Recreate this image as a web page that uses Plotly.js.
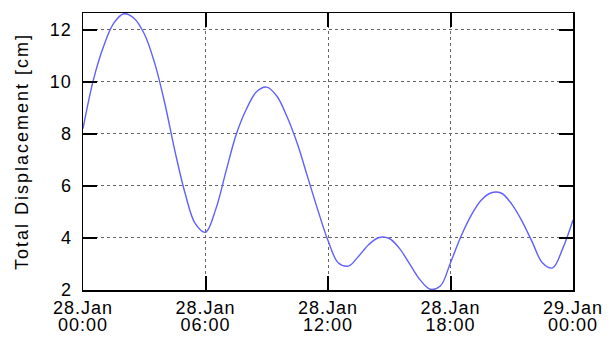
<!DOCTYPE html>
<html>
<head>
<meta charset="utf-8">
<script src="https://cdn.plot.ly/plotly-3.0.1.min.js"></script>
<style>
html,body{margin:0;padding:0;background:#fff;}
#chart{width:611px;height:340px;}
.xtick text,.x2tick text,.ytick text{letter-spacing:1px;}
.ytitle{letter-spacing:2px;}
</style>
</head>
<body>
<div id="chart"></div>
<script>
// hours since 28.Jan 00:00
var hours = [0,0.5,1,1.5,2,2.5,3,3.5,4,4.5,5,5.5,6,6.5,7,7.5,8,8.5,9,9.5,10,10.5,11,11.5,12,12.5,13,13.5,14,14.5,15,15.5,16,16.5,17,17.5,18,18.5,19,19.5,20,20.5,21,21.5,22,22.5,23,23.5,24];
var displacement = [8.2,10.05,11.35,12.25,12.62,12.45,11.85,10.75,9.2,7.35,5.72,4.55,4.22,5.1,6.55,7.97,8.95,9.62,9.8,9.45,8.65,7.62,6.35,5.08,3.9,3.05,2.92,3.3,3.75,4.02,3.98,3.6,3.0,2.4,2.03,2.15,3.05,4.04,4.85,5.45,5.74,5.72,5.3,4.65,3.85,3.05,2.85,3.6,4.69];
var xTickVals = [0,6,12,18,24];
var xTickDates = ['28.Jan','28.Jan','28.Jan','28.Jan','29.Jan'];
var xTickTimes = ['00:00','06:00','12:00','18:00','00:00'];
var yTickVals = [2,4,6,8,10,12];
var yTitle = 'Total Displacement [cm]';

var font = {family:'"Liberation Sans", Arial, sans-serif', size:18, color:'#000'};
var trace = {
  x: hours, y: displacement, type:'scatter', mode:'lines',
  line:{color:'#6060ff', width:1.4, shape:'spline', smoothing:1},
  hoverinfo:'skip'
};
var axisHolder = {x:[], y:[], xaxis:'x2', yaxis:'y', type:'scatter', mode:'lines', hoverinfo:'skip', showlegend:false};
var layout = {
  width:611, height:340,
  margin:{l:82.7, r:38.3, t:13, b:50, pad:0},
  paper_bgcolor:'#fff', plot_bgcolor:'#fff',
  showlegend:false,
  font: font,
  xaxis:{
    range:[0,24], tickmode:'array', tickvals:xTickVals, ticktext:xTickDates,
    ticks:'inside', ticklen:14, tickwidth:2, tickcolor:'#000',
    showline:true, linecolor:'#000', linewidth:1.5, mirror:'ticks',
    showgrid:true, gridcolor:'#666', griddash:'dot', gridwidth:1,
    zeroline:false, tickfont:font, ticklabelstandoff:1
  },
  xaxis2:{
    overlaying:'x', side:'bottom', anchor:'y',
    range:[0,24], tickmode:'array', tickvals:xTickVals, ticktext:xTickTimes,
    ticks:'', showline:false, showgrid:false, zeroline:false,
    tickfont:font, ticklabelstandoff:22
  },
  yaxis:{
    range:[2,12.65], tickmode:'array', tickvals:yTickVals,
    ticks:'inside', ticklen:14, tickwidth:2, tickcolor:'#000',
    showline:true, linecolor:'#000', linewidth:1.5, mirror:'ticks',
    showgrid:true, gridcolor:'#666', griddash:'dot', gridwidth:1,
    zeroline:false, tickfont:font, ticklabelstandoff:6,
    title:{text:yTitle + '\u00a0\u00a0\u00a0', font:font, standoff:16}
  }
};
Plotly.newPlot('chart',[trace, axisHolder],layout,{displayModeBar:false, staticPlot:true});
</script>
</body>
</html>
